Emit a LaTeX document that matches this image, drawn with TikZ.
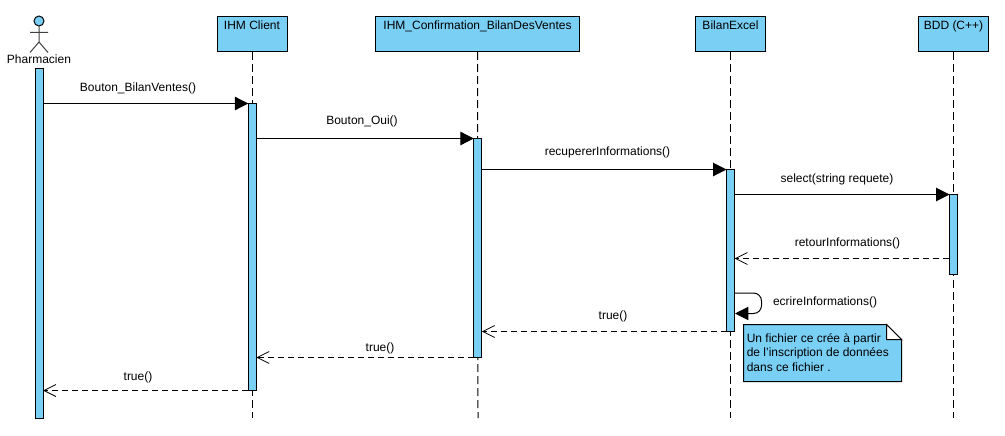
\documentclass[tikz,border=0pt]{standalone}
\usepackage{fontspec}
\setmainfont[Ligatures=ResetAll]{Liberation Sans}
\usetikzlibrary{arrows.meta,calc}
\definecolor{uml}{HTML}{7ACFF5}
\tikzset{
  x=0.75pt,y=-0.75pt,
  every node/.style={font=\fontsize{9}{10.5}\selectfont,text=black},
  headbox/.style={draw=black,fill=uml,line width=0.75pt,minimum height=26.25pt,inner sep=0pt,anchor=north,text depth=0pt},
  lifeline/.style={draw=black,line width=0.75pt,dash pattern=on 6pt off 3pt},
  bar/.style={draw=black,fill=uml,line width=0.75pt,minimum width=6pt,inner sep=0pt,outer sep=0pt,anchor=north},
  msg/.style={draw=black,line width=0.75pt,-{Triangle[length=10pt,width=10pt,fill=black]}},
  ret/.style={draw=black,line width=0.75pt,dash pattern=on 4.5pt off 3pt,-{Straight Barb[length=9pt,width=9pt,line width=0.6pt]}},
  lbl/.style={inner sep=0pt,anchor=center},
}
\begin{document}
\begin{tikzpicture}
\useasboundingbox (0,0) rectangle (1005,435);
% heads
\node[headbox,minimum width=52.5pt] (client) at (252,16) {\raisebox{14pt}{IHM Client}};
\node[headbox,minimum width=152.5pt] (conf) at (477.5,16) {\raisebox{14pt}{IHM\_Confirmation\_BilanDesVentes}};
\node[headbox,minimum width=52pt] (excel) at (730.5,16) {\raisebox{14pt}{BilanExcel}};
\node[headbox,minimum width=52pt] (bdd) at (953.5,16) {\raisebox{14pt}{BDD (C++)}};
% lifeline ends
\coordinate (clientend) at (252,418);
\coordinate (confend) at (478,418);
\coordinate (excelend) at (730.5,418);
\coordinate (bddend) at (953.5,418);
\draw[lifeline] (client.south) -- (clientend);
\draw[lifeline] (conf.south) -- (confend);
\draw[lifeline] (excel.south) -- (excelend);
\draw[lifeline] (bdd.south) -- (bddend);
% actor
\draw[draw=black!75,line width=0.75pt] (39,26.5) -- (39,42) (30,32.5) -- (48,32.5) (30,52.5) -- (39,42) -- (48,52.5);
\node[circle,draw=black,fill=uml,line width=0.75pt,minimum size=7.5pt,inner sep=0pt] (head) at (39,21) {};
\node[lbl] (actorname) at (39,59.5) {Pharmacien};
% activation bars
\node[bar,minimum height=262.5pt] (barA) at (39,68.5) {};
\node[bar,minimum height=215.25pt] (barB) at (252.3,103.5) {};
\node[bar,minimum height=164.25pt] (barC) at (477.8,138.5) {};
\node[bar,minimum height=121.5pt] (barD) at (730.5,169.5) {};
\node[bar,minimum height=60pt] (barE) at (953.5,194.5) {};
% messages
\draw[msg] (barA.east |- barB.north) -- (barB.north west);
\draw[msg] (barB.east |- barC.north) -- (barC.north west);
\draw[msg] (barC.east |- barD.north) -- (barD.north west);
\draw[msg] (barD.east |- barE.north) -- (barE.north west);
\coordinate (retE) at (949,258.5);
\draw[ret] (retE) -- (barD.east |- retE);
\coordinate (selfa) at (734.5,293);
\coordinate (selfb) at (735,313.5);
\draw[msg,rounded corners=6pt] (selfa) -- (761.5,293) -- (761.5,313.5) -- (selfb);
\draw[ret] (barD.south west) -- (barC.east |- barD.south);
\draw[ret] (barC.south west) -- (barB.east |- barC.south);
\draw[ret] (barB.south west) -- (barA.east |- barB.south);
% labels
\node[lbl] (m1) at (138,88) {Bouton\_BilanVentes()};
\node[lbl] (m2) at (362,121.5) {Bouton\_Oui()};
\node[lbl] (m3) at (607.5,152) {recupererInformations()};
\node[lbl] (m4) at (837,179.5) {select(string requete)};
\node[lbl] (m5) at (847.5,243.5) {retourInformations()};
\node[lbl] (m6) at (825,302) {ecrireInformations()};
\node[lbl] (m7) at (613,316.5) {true()};
\node[lbl] (m8) at (380,348) {true()};
\node[lbl] (m9) at (138,377.5) {true()};
% note
\draw[draw=black,fill=uml,line width=0.75pt] (743.5,324.5) -- (886.5,324.5) -- (901.5,339.5) -- (901.5,381.5) -- (743.5,381.5) -- cycle;
\draw[draw=black,fill=white,line width=0.75pt] (886.5,324.5) -- (886.5,339.5) -- (901.5,339.5) -- cycle;
\node[inner sep=0pt,anchor=west] (n1) at (746.5,339.5) {Un fichier ce crée à partir};
\node[inner sep=0pt,anchor=west] (n2) at (746.5,353.5) {de l'inscription de données};
\node[inner sep=0pt,anchor=west] (n3) at (746.5,367.5) {dans ce fichier .};
\end{tikzpicture}
\end{document}
